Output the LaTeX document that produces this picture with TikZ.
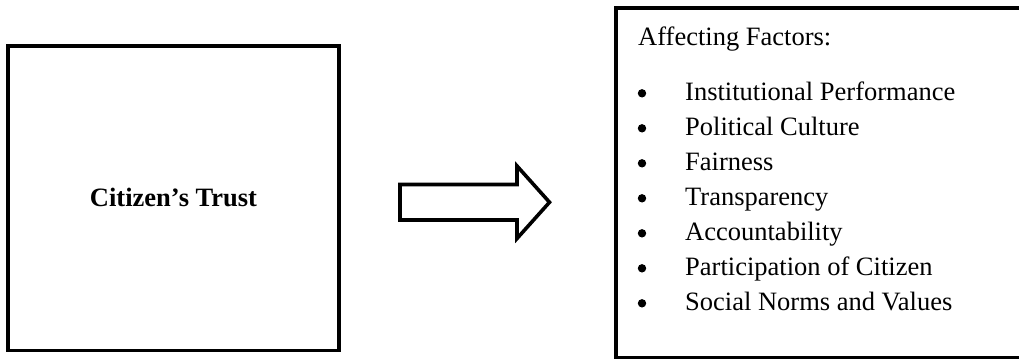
\documentclass[tikz,border=0pt]{standalone}
\usepackage{fontspec}
\setmainfont{Liberation Serif}
\begin{document}
\begin{tikzpicture}[x=1pt,y=-1pt,
  frame/.style={draw=black,line width=3.6pt,inner sep=0pt},
  txt/.style={inner sep=0pt,anchor=base west,font=\fontsize{26.5}{35}\selectfont},
  dot/.style={circle,fill=black,inner sep=0pt,minimum size=8.4pt}]
  \useasboundingbox (0,0) rectangle (1019,359);
  \clip (0,0) rectangle (1019,359);

  % left box: the concept
  \node[frame,minimum width=331pt,minimum height=304.5pt] (trust) at (173.5,198.25) {};
  \node[inner sep=0pt,anchor=base,font=\fontsize{26.5}{35}\selectfont\bfseries] (trustlabel) at (173.5,206.5) {Citizen’s Trust};

  % right box: the list of factors (runs off the page on the right)
  \node[frame,minimum width=500pt,minimum height=349.5pt] (factors) at (866,182.75) {};

  % block arrow between the boxes
  \coordinate (a1) at (400,184.5);
  \coordinate (a2) at (517,184.5);
  \coordinate (a3) at (517,166);
  \coordinate (a4) at (549.5,202.25);
  \coordinate (a5) at (517,238.5);
  \coordinate (a6) at (517,220);
  \coordinate (a7) at (400,220);
  \draw[line width=3.6pt,line join=miter] (a1) -- (a2) -- (a3) -- (a4) -- (a5) -- (a6) -- (a7) -- cycle;

  % list content
  \node[txt] (head) at (638,45) {Affecting Factors:};
  \foreach \t [count=\i from 0] in {Institutional Performance,Political Culture,Fairness,Transparency,Accountability,Participation of Citizen,Social Norms and Values}{
    \node[dot] (b\i) at (642,93.3+35*\i) {};
    \node[txt] (f\i) at (685,100+35*\i) {\t};
  }
\end{tikzpicture}
\end{document}
